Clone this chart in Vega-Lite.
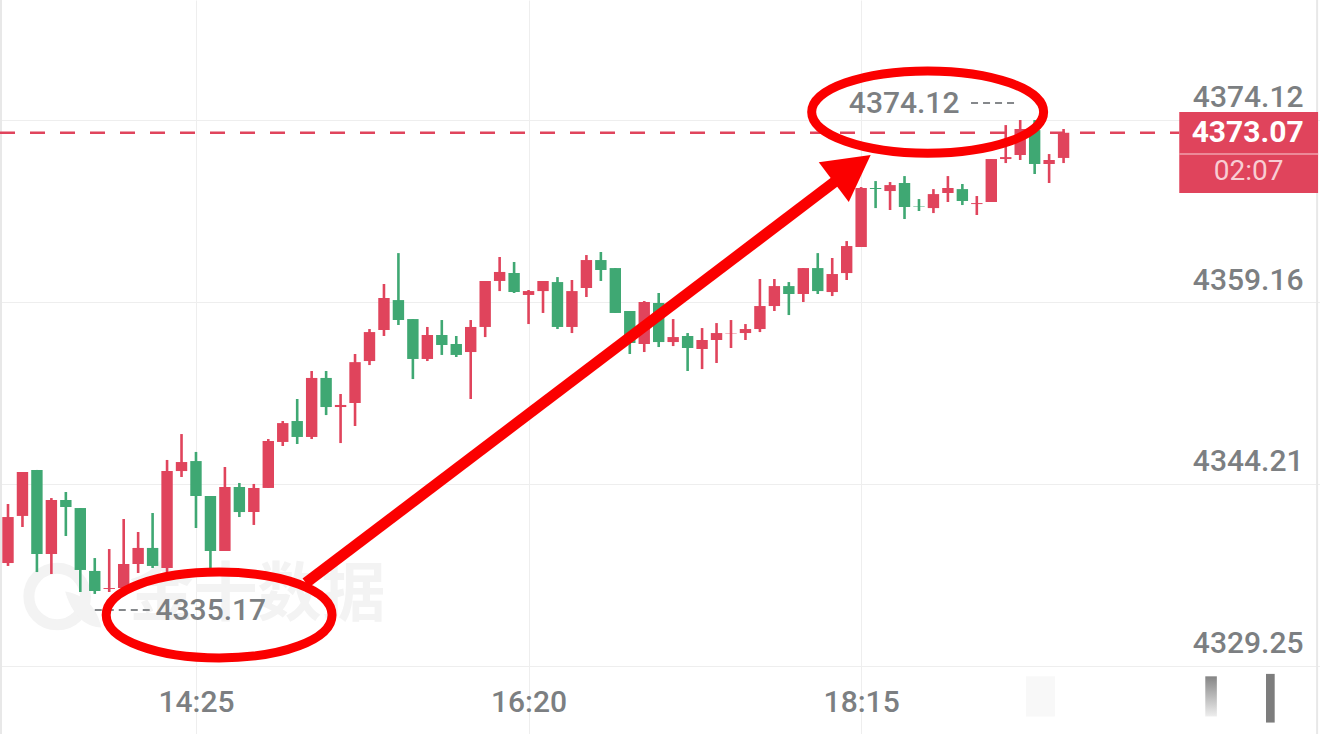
{
  "$schema": "https://vega.github.io/schema/vega-lite/v6.json",
  "autosize": {"type": "none"},
  "padding": 0,
  "width": 1320,
  "height": 734,
  "background": "#ffffff",
  "config": {"view": {"stroke": null}, "font": "Roboto"},
  "datasets": {
    "candles": [
      {"t":"2024-01-02T13:20","dir":"up","o":4337.71,"h":4342.56,"l":4337.47,"c":4341.49},
      {"t":"2024-01-02T13:25","dir":"up","o":4341.58,"h":4345.19,"l":4340.67,"c":4345.19},
      {"t":"2024-01-02T13:30","dir":"down","o":4345.36,"h":4345.36,"l":4336.97,"c":4338.45},
      {"t":"2024-01-02T13:35","dir":"up","o":4338.45,"h":4343.05,"l":4336.81,"c":4342.89},
      {"t":"2024-01-02T13:40","dir":"down","o":4342.89,"h":4343.55,"l":4339.93,"c":4342.31},
      {"t":"2024-01-02T13:45","dir":"down","o":4342.23,"h":4342.23,"l":4335.33,"c":4337.14},
      {"t":"2024-01-02T13:50","dir":"down","o":4337.06,"h":4338.12,"l":4335.17,"c":4335.41},
      {"t":"2024-01-02T13:55","dir":"up","o":4335.58,"h":4338.86,"l":4335.33,"c":4335.66},
      {"t":"2024-01-02T14:00","dir":"up","o":4335.66,"h":4341.33,"l":4335.5,"c":4337.63},
      {"t":"2024-01-02T14:05","dir":"up","o":4337.63,"h":4340.26,"l":4336.89,"c":4338.95},
      {"t":"2024-01-02T14:10","dir":"down","o":4338.95,"h":4341.82,"l":4337.3,"c":4337.47},
      {"t":"2024-01-02T14:15","dir":"up","o":4337.3,"h":4346.18,"l":4336.89,"c":4345.27},
      {"t":"2024-01-02T14:20","dir":"up","o":4345.27,"h":4348.31,"l":4344.78,"c":4346.01},
      {"t":"2024-01-02T14:25","dir":"down","o":4346.09,"h":4346.84,"l":4340.59,"c":4343.22},
      {"t":"2024-01-02T14:30","dir":"down","o":4343.22,"h":4343.22,"l":4337.3,"c":4338.7},
      {"t":"2024-01-02T14:35","dir":"up","o":4338.7,"h":4345.6,"l":4338.7,"c":4343.96},
      {"t":"2024-01-02T14:40","dir":"down","o":4343.96,"h":4344.29,"l":4341.49,"c":4341.9},
      {"t":"2024-01-02T14:45","dir":"up","o":4341.9,"h":4344.21,"l":4340.84,"c":4343.88},
      {"t":"2024-01-02T14:50","dir":"up","o":4343.88,"h":4347.9,"l":4343.88,"c":4347.74},
      {"t":"2024-01-02T14:55","dir":"up","o":4347.66,"h":4349.38,"l":4347.33,"c":4349.21},
      {"t":"2024-01-02T15:00","dir":"down","o":4349.38,"h":4351.19,"l":4347.49,"c":4348.07},
      {"t":"2024-01-02T15:05","dir":"up","o":4348.07,"h":4353.49,"l":4347.9,"c":4352.92},
      {"t":"2024-01-02T15:10","dir":"down","o":4352.92,"h":4353.49,"l":4349.87,"c":4350.53},
      {"t":"2024-01-02T15:15","dir":"up","o":4350.53,"h":4351.6,"l":4347.57,"c":4350.7},
      {"t":"2024-01-02T15:20","dir":"up","o":4350.86,"h":4354.89,"l":4348.97,"c":4354.22},
      {"t":"2024-01-02T15:25","dir":"up","o":4354.31,"h":4356.94,"l":4353.98,"c":4356.69},
      {"t":"2024-01-02T15:30","dir":"up","o":4356.86,"h":4360.64,"l":4356.37,"c":4359.49},
      {"t":"2024-01-02T15:35","dir":"down","o":4359.32,"h":4363.18,"l":4357.27,"c":4357.68},
      {"t":"2024-01-02T15:40","dir":"down","o":4357.76,"h":4357.76,"l":4352.83,"c":4354.48},
      {"t":"2024-01-02T15:45","dir":"up","o":4354.48,"h":4357.11,"l":4354.31,"c":4356.45},
      {"t":"2024-01-02T15:50","dir":"down","o":4356.45,"h":4357.68,"l":4354.81,"c":4355.63},
      {"t":"2024-01-02T15:55","dir":"down","o":4355.71,"h":4356.37,"l":4354.64,"c":4354.81},
      {"t":"2024-01-02T16:00","dir":"up","o":4355.05,"h":4357.68,"l":4351.19,"c":4357.11},
      {"t":"2024-01-02T16:05","dir":"up","o":4357.11,"h":4360.89,"l":4356.28,"c":4360.89},
      {"t":"2024-01-02T16:10","dir":"up","o":4360.89,"h":4362.86,"l":4360.06,"c":4361.63},
      {"t":"2024-01-02T16:15","dir":"down","o":4361.54,"h":4362.45,"l":4359.9,"c":4359.98},
      {"t":"2024-01-02T16:20","dir":"up","o":4359.74,"h":4360.15,"l":4357.35,"c":4360.06},
      {"t":"2024-01-02T16:25","dir":"up","o":4360.06,"h":4360.89,"l":4358.26,"c":4360.89},
      {"t":"2024-01-02T16:30","dir":"down","o":4360.8,"h":4361.21,"l":4356.94,"c":4357.11},
      {"t":"2024-01-02T16:35","dir":"up","o":4357.11,"h":4360.97,"l":4356.61,"c":4360.06},
      {"t":"2024-01-02T16:40","dir":"up","o":4360.31,"h":4363.02,"l":4359.57,"c":4362.61},
      {"t":"2024-01-02T16:45","dir":"down","o":4362.61,"h":4363.27,"l":4360.89,"c":4361.79},
      {"t":"2024-01-02T16:50","dir":"down","o":4361.95,"h":4361.95,"l":4358.26,"c":4358.26},
      {"t":"2024-01-02T16:55","dir":"down","o":4358.42,"h":4358.42,"l":4354.89,"c":4355.79},
      {"t":"2024-01-02T17:00","dir":"up","o":4355.71,"h":4359.24,"l":4355.05,"c":4359.16},
      {"t":"2024-01-02T17:05","dir":"down","o":4359.08,"h":4359.9,"l":4355.46,"c":4355.87},
      {"t":"2024-01-02T17:10","dir":"up","o":4355.87,"h":4357.76,"l":4355.54,"c":4356.28},
      {"t":"2024-01-02T17:15","dir":"down","o":4356.37,"h":4356.61,"l":4353.49,"c":4355.38},
      {"t":"2024-01-02T17:20","dir":"up","o":4355.3,"h":4357.02,"l":4353.65,"c":4356.04},
      {"t":"2024-01-02T17:25","dir":"up","o":4356.04,"h":4357.43,"l":4354.15,"c":4356.61},
      {"t":"2024-01-02T17:30","dir":"up","o":4356.58,"h":4357.68,"l":4355.38,"c":4356.61},
      {"t":"2024-01-02T17:35","dir":"up","o":4356.61,"h":4357.35,"l":4356.04,"c":4356.94},
      {"t":"2024-01-02T17:40","dir":"up","o":4356.94,"h":4361.05,"l":4356.69,"c":4358.83},
      {"t":"2024-01-02T17:45","dir":"up","o":4358.83,"h":4361.05,"l":4358.42,"c":4360.47},
      {"t":"2024-01-02T17:50","dir":"down","o":4360.47,"h":4360.8,"l":4358.09,"c":4359.82},
      {"t":"2024-01-02T17:55","dir":"up","o":4359.82,"h":4361.95,"l":4359.16,"c":4361.95},
      {"t":"2024-01-02T18:00","dir":"down","o":4361.95,"h":4363.18,"l":4359.82,"c":4360.06},
      {"t":"2024-01-02T18:05","dir":"up","o":4359.98,"h":4362.78,"l":4359.65,"c":4361.46},
      {"t":"2024-01-02T18:10","dir":"up","o":4361.54,"h":4364.17,"l":4360.97,"c":4363.76},
      {"t":"2024-01-02T18:15","dir":"up","o":4363.68,"h":4368.61,"l":4363.68,"c":4368.53},
      {"t":"2024-01-02T18:20","dir":"down","o":4368.53,"h":4369.1,"l":4366.88,"c":4368.45},
      {"t":"2024-01-02T18:25","dir":"up","o":4368.28,"h":4369.02,"l":4366.72,"c":4368.77},
      {"t":"2024-01-02T18:30","dir":"down","o":4368.94,"h":4369.51,"l":4365.98,"c":4366.97},
      {"t":"2024-01-02T18:35","dir":"down","o":4367.05,"h":4367.62,"l":4366.64,"c":4367.01},
      {"t":"2024-01-02T18:40","dir":"up","o":4366.88,"h":4368.44,"l":4366.47,"c":4368.03},
      {"t":"2024-01-02T18:45","dir":"up","o":4368.12,"h":4369.51,"l":4367.38,"c":4368.53},
      {"t":"2024-01-02T18:50","dir":"down","o":4368.44,"h":4368.86,"l":4367.13,"c":4367.46},
      {"t":"2024-01-02T18:55","dir":"up","o":4367.21,"h":4367.87,"l":4366.31,"c":4367.29},
      {"t":"2024-01-02T19:00","dir":"up","o":4367.38,"h":4370.91,"l":4367.38,"c":4370.91},
      {"t":"2024-01-02T19:05","dir":"up","o":4370.91,"h":4373.7,"l":4370.58,"c":4371.07},
      {"t":"2024-01-02T19:10","dir":"up","o":4371.24,"h":4374.12,"l":4370.83,"c":4373.38},
      {"t":"2024-01-02T19:15","dir":"down","o":4373.29,"h":4374.12,"l":4369.68,"c":4370.5},
      {"t":"2024-01-02T19:20","dir":"up","o":4370.5,"h":4371.32,"l":4368.94,"c":4370.83},
      {"t":"2024-01-02T19:25","dir":"up","o":4371,"h":4373.38,"l":4370.58,"c":4373.07}
    ]
  },
  "encoding": {
    "x": {
      "field": "t",
      "type": "temporal",
      "scale": {
        "nice": false,
        "padding": 0,
        "domain": [
          {"year": 2024, "month": 1, "date": 2, "hours": 13, "minutes": 17, "seconds": 14},
          {"year": 2024, "month": 1, "date": 2, "hours": 20, "minutes": 53, "seconds": 40}
        ]
      },
      "title": null,
      "axis": {
        "values": [
          {"year": 2024, "month": 1, "date": 2, "hours": 14, "minutes": 25},
          {"year": 2024, "month": 1, "date": 2, "hours": 16, "minutes": 20},
          {"year": 2024, "month": 1, "date": 2, "hours": 18, "minutes": 15}
        ],
        "format": "%H:%M",
        "domain": false,
        "ticks": false,
        "grid": true,
        "gridColor": "#eeeeee",
        "gridWidth": 1,
        "labelPadding": -32,
        "labelBaseline": "middle",
        "labelFontSize": 30,
        "labelFontWeight": 500,
        "labelColor": "#7c7f82",
        "labelFlush": false,
        "labelOverlap": false
      }
    },
    "y": {
      "field": "y",
      "type": "quantitative",
      "scale": {"domain": [4323.66, 4383.98]},
      "title": null,
      "axis": {
        "orient": "right",
        "values": [4374.12, 4359.16, 4344.21, 4329.25],
        "format": ".2f",
        "domain": false,
        "ticks": false,
        "grid": true,
        "gridColor": "#eeeeee",
        "gridWidth": 1,
        "labelAlign": "right",
        "labelPadding": -17,
        "labelOffset": -22,
        "labelFontSize": 30,
        "labelFontWeight": 500,
        "labelColor": "#7c7f82",
        "labelFlush": false,
        "labelOverlap": false
      }
    }
  },
  "layer": [
    {
      "data": {"values": [
        {"t": "2024-01-02T14:02", "y": 4334.96, "label": "金十数据"}
      ]},
      "mark": {"type": "text", "align": "left", "baseline": "middle", "font": "Noto Sans CJK SC", "fontWeight": "bold", "fontSize": 64, "color": "#f3f3f3"},
      "encoding": {"text": {"field": "label"}}
    },
    {
      "data": {"values": [{"t": "2024-01-02T13:37", "y": 4334.96}]},
      "mark": {"type": "point", "filled": false, "size": 3200, "stroke": "#f3f3f3", "strokeWidth": 11, "opacity": 1},
      "encoding": {}
    },
    {
      "data": {"values": [{"t": "2024-01-02T13:46", "y": 4333.9}]},
      "mark": {"type": "point", "filled": true, "opacity": 1, "color": "#f3f3f3", "size": 1600, "shape": "M-0.9,-0.9 C-0.1,-0.8 0.7,-0.2 0.9,0.9 C0.1,0.9 -0.6,0.2 -0.9,-0.9 Z"},
      "encoding": {}
    },
    {
      "data": {"name": "candles"},
      "mark": {"type": "rule", "strokeWidth": 2.6},
      "encoding": {
        "y": {
          "field": "l",
          "type": "quantitative",
          "scale": {"domain": [4323.66, 4383.98]},
          "title": null,
          "axis": {
            "orient": "right",
            "values": [4374.12, 4359.16, 4344.21, 4329.25],
            "format": ".2f",
            "domain": false,
            "ticks": false,
            "grid": true,
            "gridColor": "#eeeeee",
            "gridWidth": 1,
            "labelAlign": "right",
            "labelPadding": -17,
            "labelOffset": -22,
            "labelFontSize": 30,
            "labelFontWeight": 500,
            "labelColor": "#7c7f82",
            "labelFlush": false,
            "labelOverlap": false
          }
        },
        "y2": {"field": "h"},
        "color": {"field": "dir", "type": "nominal", "scale": {"domain": ["up", "down"], "range": ["#e0445c", "#3fa873"]}, "legend": null}
      }
    },
    {
      "data": {"name": "candles"},
      "mark": {"type": "bar", "size": 11.4},
      "encoding": {
        "y": {
          "field": "o",
          "type": "quantitative",
          "scale": {"domain": [4323.66, 4383.98]},
          "title": null,
          "axis": {
            "orient": "right",
            "values": [4374.12, 4359.16, 4344.21, 4329.25],
            "format": ".2f",
            "domain": false,
            "ticks": false,
            "grid": true,
            "gridColor": "#eeeeee",
            "gridWidth": 1,
            "labelAlign": "right",
            "labelPadding": -17,
            "labelOffset": -22,
            "labelFontSize": 30,
            "labelFontWeight": 500,
            "labelColor": "#7c7f82",
            "labelFlush": false,
            "labelOverlap": false
          }
        },
        "y2": {"field": "c"},
        "color": {"field": "dir", "type": "nominal", "scale": {"domain": ["up", "down"], "range": ["#e0445c", "#3fa873"]}, "legend": null}
      }
    },
    {
      "data": {"values": [{"t": "2024-01-02T13:17:35"}, {"t": "2024-01-02T20:52:40"}]},
      "mark": {"type": "rule", "color": "#e8e8e8", "strokeWidth": 2},
      "encoding": {"y": null}
    },
    {
      "data": {"values": [{"t": "2024-01-02T13:17:14", "t2": "2024-01-02T20:05", "y": 4373.07}]},
      "mark": {"type": "rule", "color": "#e0445c", "strokeWidth": 2.4, "strokeDash": [15, 15]},
      "encoding": {"x2": {"field": "t2"}}
    },
    {
      "data": {"values": [{"t": "2024-01-02T20:05", "t2": "2024-01-02T20:53", "y": 4374.77, "y2": 4368.12}]},
      "mark": {"type": "bar", "color": "#e0445c"},
      "encoding": {"x2": {"field": "t2"}, "y2": {"field": "y2"}}
    },
    {
      "data": {"values": [{"t": "2024-01-02T20:05", "t2": "2024-01-02T20:53", "y": 4371.33}]},
      "mark": {"type": "rule", "color": "#f0a0ac", "strokeWidth": 1.5},
      "encoding": {"x2": {"field": "t2"}}
    },
    {
      "data": {"values": [{"t": "2024-01-02T20:48", "y": 4373.07, "label": "4373.07"}]},
      "mark": {"type": "text", "align": "right", "baseline": "middle", "fontSize": 30, "fontWeight": "bold", "color": "#ffffff"},
      "encoding": {"text": {"field": "label"}}
    },
    {
      "data": {"values": [{"t": "2024-01-02T20:29", "y": 4369.84, "label": "02:07"}]},
      "mark": {"type": "text", "align": "center", "baseline": "middle", "fontSize": 28, "color": "#f8cdd3"},
      "encoding": {"text": {"field": "label"}}
    },
    {
      "data": {"values": [{"t": "2024-01-02T18:49", "y": 4374.12, "label": "4374.12"}]},
      "mark": {"type": "text", "align": "right", "baseline": "middle", "dy": -16, "fontSize": 30, "fontWeight": 500, "color": "#7c7f82"},
      "encoding": {"text": {"field": "label"}}
    },
    {
      "data": {"values": [{"t": "2024-01-02T14:11", "y": 4335.17, "label": "4335.17"}]},
      "mark": {"type": "text", "align": "left", "baseline": "middle", "dy": 17, "fontSize": 30, "fontWeight": 500, "color": "#7c7f82"},
      "encoding": {"text": {"field": "label"}}
    },
    {
      "data": {"values": [
        {"t": "2024-01-02T18:53", "t2": "2024-01-02T19:08", "y": 4375.52},
        {"t": "2024-01-02T13:50", "t2": "2024-01-02T14:09", "y": 4333.85}
      ]},
      "mark": {"type": "rule", "color": "#85888b", "strokeWidth": 2, "strokeDash": [7, 5]},
      "encoding": {"x2": {"field": "t2"}}
    },
    {
      "data": {"values": [
        {"t": "2024-01-02T19:12", "t2": "2024-01-02T19:22", "y": 4328.4, "y2": 4325.1, "c": "#f8f8f8"},
        {"t": "2024-01-02T20:35", "t2": "2024-01-02T20:38", "y": 4328.6, "y2": 4324.6, "c": "#7d7d7d"}
      ]},
      "mark": {"type": "bar"},
      "encoding": {
        "x2": {"field": "t2"},
        "y2": {"field": "y2"},
        "color": {"field": "c", "type": "nominal", "scale": null, "legend": null}
      }
    },
    {
      "data": {"values": [{"t": "2024-01-02T20:14", "t2": "2024-01-02T20:18", "y": 4328.4, "y2": 4325.1}]},
      "mark": {"type": "bar", "color": {"gradient": "linear", "x1": 0, "y1": 0, "x2": 0, "y2": 1, "stops": [{"offset": 0, "color": "#858585"}, {"offset": 1, "color": "#eeeeee"}]}},
      "encoding": {"x2": {"field": "t2"}, "y2": {"field": "y2"}}
    },
    {
      "data": {"values": [
        {"t": "2024-01-02T15:03", "y": 4336.07},
        {"t": "2024-01-02T18:09", "y": 4369.6}
      ]},
      "mark": {"type": "line", "color": "#fb0000", "strokeWidth": 11, "strokeCap": "butt"},
      "encoding": {}
    },
    {
      "data": {"values": [{"t": "2024-01-02T18:10", "y": 4369.84}]},
      "mark": {"type": "point", "filled": true, "opacity": 1, "color": "#fb0000", "size": 3600, "shape": "M0.8,-0.57 L-0.93,-0.33 L0.07,1 Z"},
      "encoding": {}
    },
    {
      "data": {"values": [{"t": "2024-01-02T18:38", "y": 4374.77}]},
      "mark": {"type": "point", "filled": false, "fill": null, "opacity": 1, "stroke": "#fb0000", "strokeWidth": 9, "size": 53800, "shape": "M-1,0 C-1,-0.2 -0.552,-0.355 0,-0.355 C0.552,-0.355 1,-0.2 1,0 C1,0.2 0.552,0.355 0,0.355 C-0.552,0.355 -1,0.2 -1,0 Z"},
      "encoding": {}
    },
    {
      "data": {"values": [{"t": "2024-01-02T14:33", "y": 4333.44}]},
      "mark": {"type": "point", "filled": false, "fill": null, "opacity": 1, "stroke": "#fb0000", "strokeWidth": 9, "size": 51000, "shape": "M-1,0 C-1,-0.22 -0.552,-0.38 0,-0.38 C0.552,-0.38 1,-0.22 1,0 C1,0.22 0.552,0.38 0,0.38 C-0.552,0.38 -1,0.22 -1,0 Z"},
      "encoding": {}
    }
  ]
}
